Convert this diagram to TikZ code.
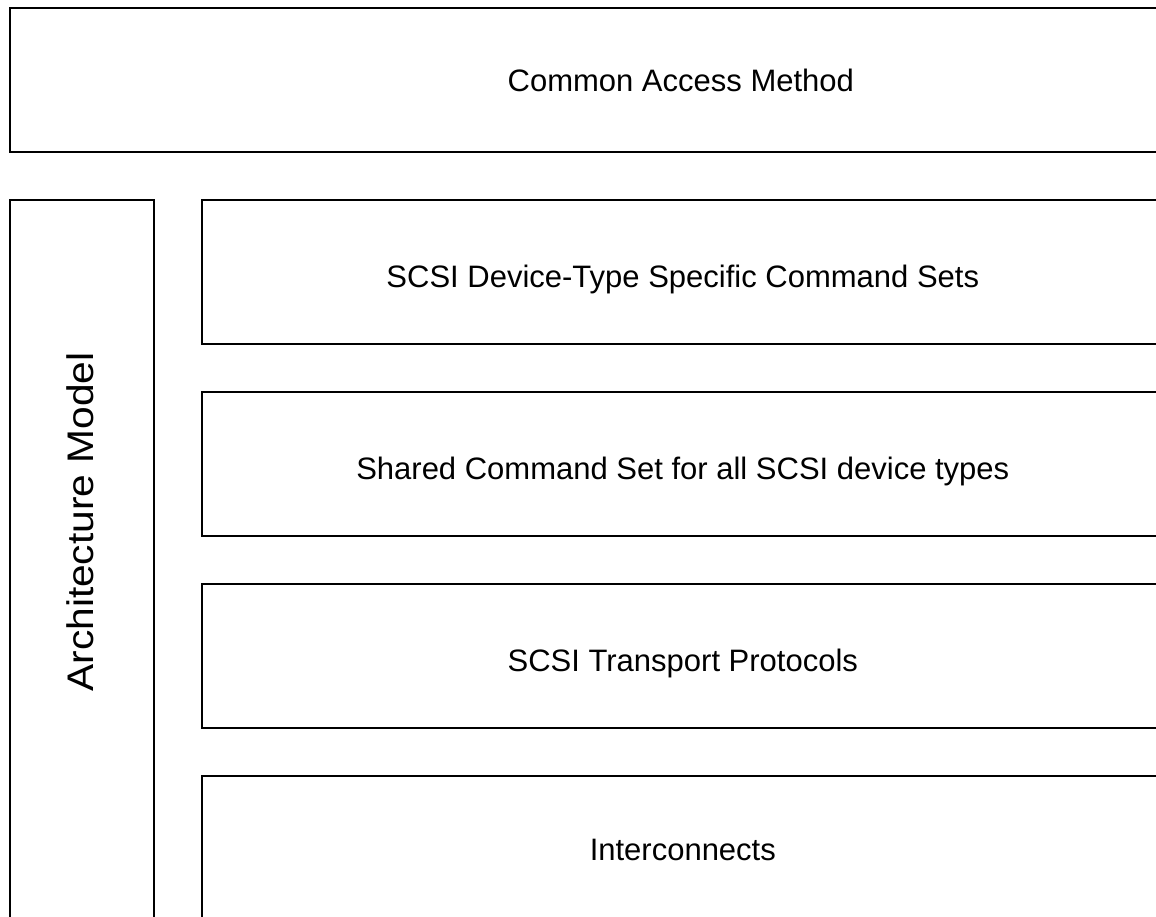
\documentclass[tikz,border=0pt]{standalone}
\usepackage{fontspec}
\setmainfont{Liberation Sans}
\begin{document}
\begin{tikzpicture}[x=1pt,y=-1pt,
  layer/.style={draw=black, line width=1.6pt, fill=white, inner sep=0pt,
    anchor=north west, text depth=0pt, font=\fontsize{31}{37}\selectfont},
  wide/.style={layer, minimum width=1342pt, minimum height=144pt},
  stack/.style={layer, minimum width=962pt, minimum height=144pt, text height=31pt}]
\useasboundingbox (0,0) rectangle (1156,916);
\clip (0,0) rectangle (1156,916);
% top layer spanning the full width
\node[wide] (cam) at (9,7) {Common Access Method};
% vertical architecture model column
\node[layer, minimum width=144pt, minimum height=800pt] (arch) at (9,199) {};
\node[font=\fontsize{37}{44}\selectfont, rotate=90, inner sep=0pt] (archlabel) at (80,522)
  {\scalebox{1.1}[1]{Architecture Model}};
% stacked protocol layers
\node[stack] (dev) at (201,199) {SCSI Device-Type Specific Command Sets};
\node[stack] (shared) at (201,391) {Shared Command Set for all SCSI device types};
\node[stack] (trans) at (201,583) {SCSI Transport Protocols};
\node[stack, text height=26pt] (inter) at (201,775) {Interconnects};
\end{tikzpicture}
\end{document}
